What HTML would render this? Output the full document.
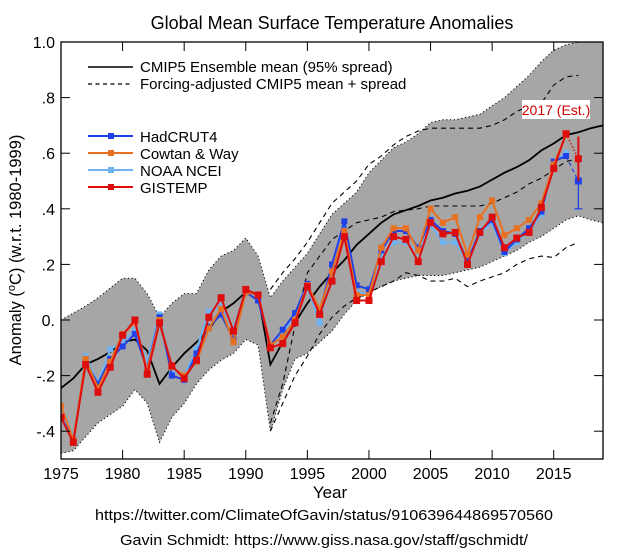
<!DOCTYPE html>
<html><head><meta charset="utf-8"><style>
html,body{margin:0;padding:0;background:#fff;}
svg{display:block;font-family:"Liberation Sans",Arial,sans-serif;}
</style></head><body>
<svg id="chart" width="640" height="558" viewBox="0 0 640 558">
<text x="332" y="29" text-anchor="middle" font-size="18">Global Mean Surface Temperature Anomalies</text>
<g id="plot"></g>
<text x="330" y="498" text-anchor="middle" font-size="17">Year</text>
<text transform="translate(21,250) rotate(-90)" text-anchor="middle" font-size="16.5">Anomaly (<tspan font-size="11" dy="-6">o</tspan><tspan dy="6">C) (w.r.t. 1980-1999)</tspan></text>
<text x="324" y="520" text-anchor="middle" font-size="15" textLength="458" lengthAdjust="spacingAndGlyphs">https://twitter.com/ClimateOfGavin/status/910639644869570560</text>
<text x="324" y="545" text-anchor="middle" font-size="15" textLength="408" lengthAdjust="spacingAndGlyphs">Gavin Schmidt: https://www.giss.nasa.gov/staff/gschmidt/</text>
</svg>
<script>
const years = [1975,1976,1977,1978,1979,1980,1981,1982,1983,1984,1985,1986,1987,1988,1989,1990,1991,1992,1993,1994,1995,1996,1997,1998,1999,2000,2001,2002,2003,2004,2005,2006,2007,2008,2009,2010,2011,2012,2013,2014,2015,2016,2017,2018,2019];
const ensMean = [-0.245,-0.21,-0.16,-0.14,-0.115,-0.08,-0.07,-0.11,-0.23,-0.17,-0.12,-0.08,-0.035,0.03,0.06,0.10,0.09,-0.16,-0.08,-0.01,0.06,0.12,0.17,0.215,0.27,0.31,0.35,0.38,0.395,0.41,0.43,0.44,0.455,0.465,0.48,0.505,0.53,0.55,0.575,0.61,0.635,0.665,0.675,0.69,0.70];
const spreadUpper = [0.0,0.025,0.05,0.08,0.115,0.15,0.15,0.095,0.01,0.06,0.095,0.095,0.18,0.23,0.25,0.295,0.23,0.08,0.14,0.19,0.24,0.31,0.38,0.42,0.46,0.53,0.575,0.62,0.64,0.67,0.71,0.72,0.72,0.73,0.74,0.77,0.80,0.84,0.88,0.93,0.97,0.99,1.0,1.0,1.0];
const spreadLower = [-0.48,-0.47,-0.42,-0.37,-0.34,-0.31,-0.25,-0.30,-0.44,-0.35,-0.30,-0.23,-0.18,-0.145,-0.12,-0.07,-0.09,-0.40,-0.25,-0.14,-0.12,-0.08,-0.04,0.02,0.07,0.10,0.12,0.14,0.15,0.16,0.16,0.16,0.17,0.18,0.19,0.21,0.23,0.25,0.28,0.30,0.33,0.36,0.375,0.36,0.35];
const adjYears = [1992,1993,1994,1995,1996,1997,1998,1999,2000,2001,2002,2003,2004,2005,2006,2007,2008,2009,2010,2011,2012,2013,2014,2015,2016,2017];
const adjUpper = [0.11,0.17,0.22,0.28,0.35,0.42,0.46,0.50,0.56,0.59,0.63,0.66,0.68,0.69,0.69,0.69,0.69,0.69,0.70,0.72,0.75,0.77,0.78,0.845,0.875,0.88];
const adjMean = [-0.37,-0.23,-0.02,0.17,0.23,0.29,0.32,0.35,0.36,0.37,0.39,0.395,0.40,0.41,0.41,0.41,0.41,0.41,0.42,0.44,0.46,0.49,0.51,0.54,0.57,0.58];
const adjLower = [-0.40,-0.30,-0.20,-0.13,-0.05,0.01,0.05,0.08,0.10,0.12,0.14,0.17,0.16,0.14,0.14,0.15,0.12,0.14,0.155,0.17,0.20,0.22,0.23,0.225,0.26,0.28];
const obsYears = [1975,1976,1977,1978,1979,1980,1981,1982,1983,1984,1985,1986,1987,1988,1989,1990,1991,1992,1993,1994,1995,1996,1997,1998,1999,2000,2001,2002,2003,2004,2005,2006,2007,2008,2009,2010,2011,2012,2013,2014,2015,2016];
const hadcrut = [-0.35,-0.43,-0.15,-0.23,-0.14,-0.095,-0.05,-0.175,0.01,-0.2,-0.215,-0.12,-0.025,0.02,-0.07,0.10,0.07,-0.09,-0.035,0.025,0.13,0.03,0.20,0.355,0.125,0.11,0.25,0.32,0.32,0.26,0.36,0.32,0.31,0.21,0.32,0.36,0.245,0.29,0.33,0.39,0.57,0.59];
const cowtan = [-0.31,-0.43,-0.14,-0.245,-0.15,-0.05,-0.01,-0.18,0.0,-0.17,-0.2,-0.15,-0.03,0.04,-0.08,0.10,0.09,-0.09,-0.06,0.0,0.125,0.04,0.175,0.32,0.09,0.09,0.26,0.33,0.33,0.25,0.40,0.35,0.37,0.235,0.37,0.43,0.305,0.33,0.36,0.42,0.56,0.665];
const noaa = [-0.33,-0.42,-0.13,-0.225,-0.105,-0.08,-0.035,-0.15,0.02,-0.18,-0.2,-0.105,0.03,0.05,-0.03,0.11,0.08,-0.09,-0.05,0.01,0.115,-0.01,0.19,0.33,0.10,0.095,0.23,0.28,0.28,0.245,0.34,0.28,0.28,0.21,0.31,0.35,0.24,0.28,0.32,0.38,0.57,0.60];
const gistemp = [-0.35,-0.44,-0.16,-0.26,-0.17,-0.055,0.0,-0.195,-0.01,-0.165,-0.21,-0.145,0.01,0.08,-0.04,0.11,0.09,-0.10,-0.085,-0.01,0.12,0.02,0.14,0.30,0.07,0.07,0.21,0.30,0.29,0.21,0.35,0.31,0.315,0.20,0.315,0.37,0.26,0.295,0.315,0.405,0.545,0.67];
const estYear = [2017];
const gistempEst = [0.58], gistempErrHi = [0.66], gistempErrLo = [0.50];
const hadcrutEst = [0.50], hadcrutErrHi = [0.58], hadcrutErrLo = [0.40];
const yTicks = [1.0,0.8,0.6,0.4,0.2,0.0,-0.2,-0.4];
const yTickLabels = ["1.0",".8",".6",".4",".2","0.","-.2","-.4"];
const xTicks = [1975,1980,1985,1990,1995,2000,2005,2010,2015];

const X0=61, X1=603, Y0=42, Y1=459;
const xs = y => X0 + (y-1975)/(2019-1975)*(X1-X0);
const ys = v => Y0 + (1.0-v)/1.5*(Y1-Y0);
const NS="http://www.w3.org/2000/svg";
const plot=document.getElementById('plot');
function mk(tag, attrs, parent){const e=document.createElementNS(NS,tag);for(const k in attrs)e.setAttribute(k,attrs[k]);(parent||plot).appendChild(e);return e;}
function pts(xa,va){return xa.map((x,i)=>xs(x).toFixed(1)+','+ys(va[i]).toFixed(1)).join(' ');}

const defs=mk('clipPath',{id:'clip'});
mk('rect',{x:X0,y:Y0,width:X1-X0,height:Y1-Y0},defs);
const g=mk('g',{'clip-path':'url(#clip)'});



const band=mk('polygon',{points:pts(years,spreadUpper)+' '+pts(years.slice().reverse(),spreadLower.slice().reverse()),fill:'#a6a6a6',stroke:'none'},g);


const bu=mk('polyline',{points:pts(years,spreadUpper),fill:'none',stroke:'#000','stroke-width':1,'stroke-dasharray':'1.2,2.6'},g);


const bl=mk('polyline',{points:pts(years,spreadLower),fill:'none',stroke:'#000','stroke-width':1,'stroke-dasharray':'1.2,2.6'},g);



[[adjUpper,'forcing-adjusted-upper'],[adjMean,'forcing-adjusted-mean'],[adjLower,'forcing-adjusted-lower']].forEach(([arr,name])=>{
  const l=mk('polyline',{points:pts(adjYears,arr),fill:'none',stroke:'#000','stroke-width':1.1,'stroke-dasharray':'5,4'},g);
  
  
});
const em=mk('polyline',{points:pts(years,ensMean),fill:'none',stroke:'#000','stroke-width':1.8},g);



const series=[[noaa,'#6fb3f0','noaa-ncei'],[hadcrut,'#2040e8','hadcrut4'],[cowtan,'#e87020','cowtan-way'],[gistemp,'#dd0d0d','gistemp']];
series.forEach(([arr,col,name])=>{
  const sg=mk('g',{},g);
  
  
  mk('polyline',{points:pts(obsYears,arr),fill:'none',stroke:col,'stroke-width':2},sg);
  arr.forEach((v,i)=>{
    const s=name==='gistemp'?7:6;
    const r=mk('rect',{x:xs(obsYears[i])-s/2,y:ys(v)-s/2,width:s,height:s,fill:col},sg);
    
    
  });
});
const hl=hadcrut.length-1, gl=gistemp.length-1;
const hEst=mk('line',{x1:xs(obsYears[hl]),y1:ys(hadcrut[hl]),x2:xs(estYear[0]),y2:ys(hadcrutEst[0]),stroke:'#2040e8','stroke-width':1.2,'stroke-dasharray':'4,3'},g);


const hErr=mk('line',{x1:xs(estYear[0]),y1:ys(hadcrutErrHi[0]),x2:xs(estYear[0]),y2:ys(hadcrutErrLo[0]),stroke:'#2040e8','stroke-width':1.3},g);


mk('line',{x1:xs(estYear[0])-4,y1:ys(hadcrutErrLo[0]),x2:xs(estYear[0])+4,y2:ys(hadcrutErrLo[0]),stroke:'#2040e8','stroke-width':1.2},g);
const hP=mk('rect',{x:xs(estYear[0])-3.5,y:ys(hadcrutEst[0])-3.5,width:7,height:7,fill:'#2040e8'},g);


const gEst=mk('line',{x1:xs(obsYears[gl]),y1:ys(gistemp[gl]),x2:xs(estYear[0]),y2:ys(gistempEst[0]),stroke:'#dd0d0d','stroke-width':1.5,'stroke-dasharray':'1.5,2'},g);


const gErr=mk('line',{x1:xs(estYear[0]),y1:ys(gistempErrHi[0]),x2:xs(estYear[0]),y2:ys(gistempErrLo[0]),stroke:'#dd0d0d','stroke-width':2},g);


const gP=mk('rect',{x:xs(estYear[0])-3.5,y:ys(gistempEst[0])-3.5,width:7,height:7,fill:'#dd0d0d'},g);



const fr=mk('rect',{x:X0,y:Y0,width:X1-X0,height:Y1-Y0,fill:'none',stroke:'#000','stroke-width':1.3});


yTicks.forEach((v,i)=>{
  mk('line',{x1:X0,y1:ys(v),x2:X0+9,y2:ys(v),stroke:'#000','stroke-width':1});
  mk('line',{x1:X1,y1:ys(v),x2:X1-9,y2:ys(v),stroke:'#000','stroke-width':1});
  const t=mk('text',{x:X0-6,y:ys(v)+6,'text-anchor':'end','font-size':16});
  t.textContent=yTickLabels[i];
  
  
});
xTicks.forEach(yr=>{
  mk('line',{x1:xs(yr),y1:Y1,x2:xs(yr),y2:Y1-9,stroke:'#000','stroke-width':1});
  mk('line',{x1:xs(yr),y1:Y0,x2:xs(yr),y2:Y0+9,stroke:'#000','stroke-width':1});
  const t=mk('text',{x:xs(yr),y:Y1+20,'text-anchor':'middle','font-size':16});
  t.textContent=String(yr);
  
  
});

const lg=mk('g',{});


mk('line',{x1:88,y1:67,x2:133,y2:67,stroke:'#000','stroke-width':1.5},lg);
let t=mk('text',{x:140,y:72,'font-size':15},lg); t.textContent='CMIP5 Ensemble mean (95% spread)';


mk('line',{x1:88,y1:84,x2:133,y2:84,stroke:'#000','stroke-width':1.2,'stroke-dasharray':'4,3.5'},lg);
t=mk('text',{x:140,y:89,'font-size':15},lg); t.textContent='Forcing-adjusted CMIP5 mean + spread';


[['HadCRUT4','#2040e8',136],['Cowtan & Way','#e87020',153],['NOAA NCEI','#6fb3f0',170],['GISTEMP','#dd0d0d',187]].forEach(([lab,col,y])=>{
  mk('line',{x1:88,y1:y,x2:133,y2:y,stroke:col,'stroke-width':2},lg);
  mk('rect',{x:108,y:y-3,width:6,height:6,fill:col},lg);
  const tt=mk('text',{x:140,y:y+6,'font-size':15},lg); tt.textContent=lab;
  
  
});
const eb=mk('rect',{x:522,y:100,width:68,height:19,fill:'#fff'});


const et=mk('text',{x:556,y:115,'text-anchor':'middle','font-size':14,fill:'#cc0000'});
et.textContent='2017 (Est.)';


</script>
</body></html>
